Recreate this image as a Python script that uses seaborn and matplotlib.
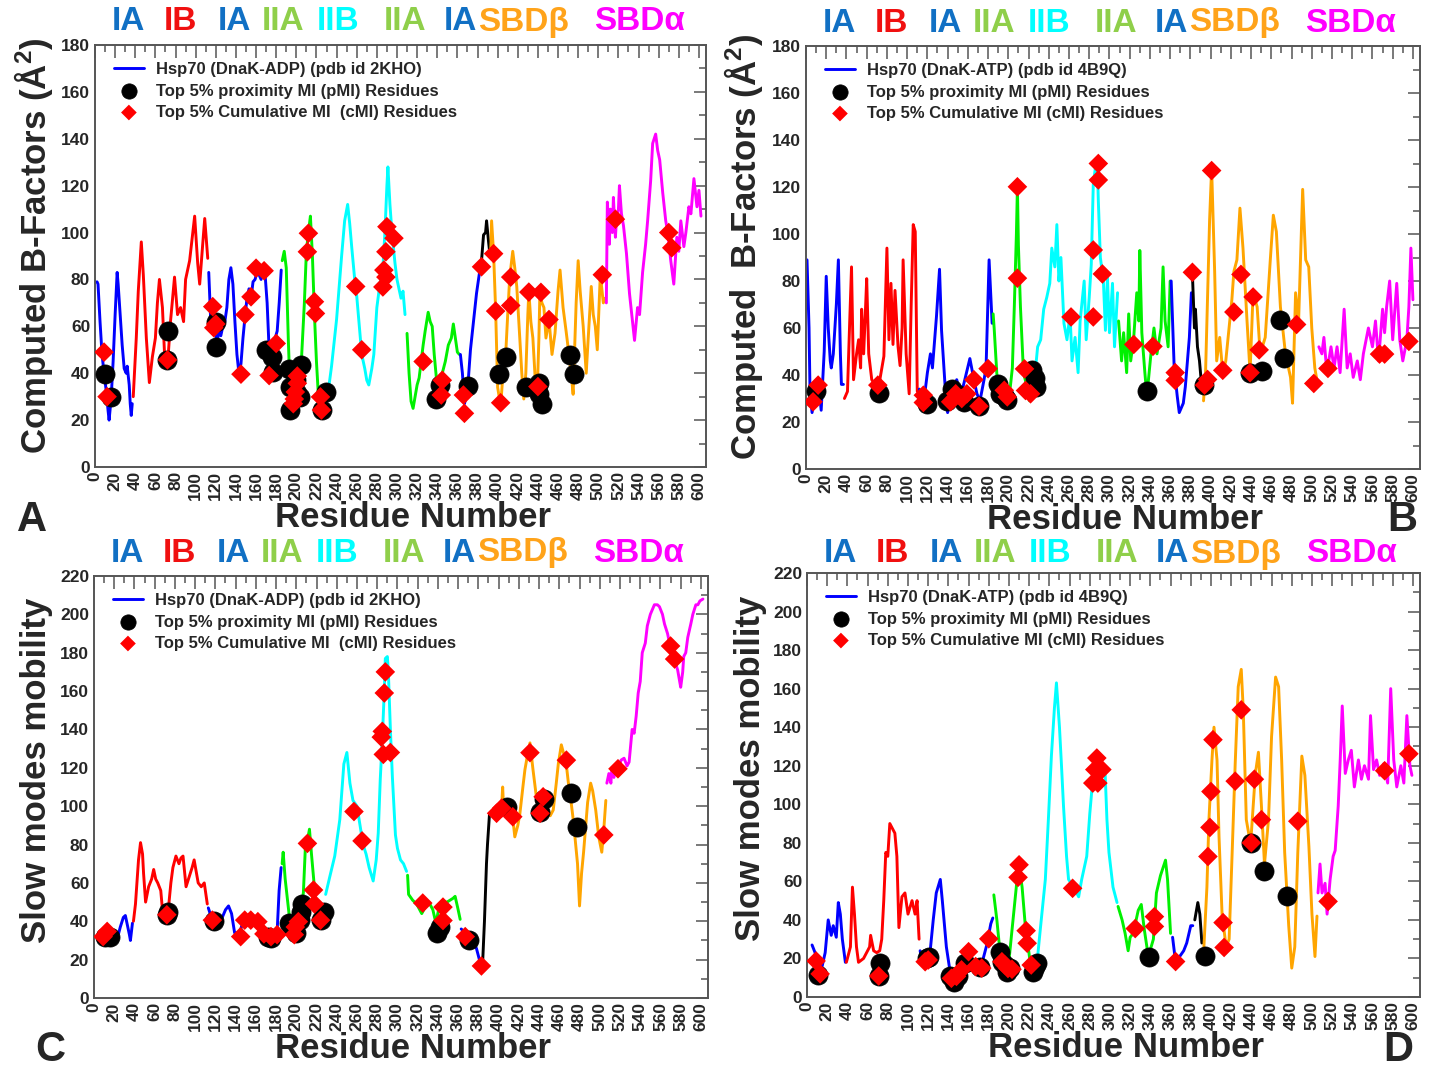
import matplotlib
matplotlib.use("Agg")
import matplotlib.pyplot as plt
from matplotlib.ticker import MultipleLocator
import seaborn as sns

# colours of the ten line segments (IA, IB, IA, IIA, IIB, IIA, IA, linker, SBDb, SBDa)
seg_colors = ["#0000ff", "#ff0000", "#0000ff", "#00f000", "#00ffff",
              "#00f000", "#0000ff", "#000000", "#ffa500", "#ff00ff"]

domain_labels = ["IA", "IB", "IA", "IIA", "IIB", "IIA", "IA", "SBDβ", "SBDα"]
domain_colors = ["#1170c4", "#f01010", "#1170c4", "#8fcf4a", "#00ffff",
                 "#8fcf4a", "#1170c4", "#ffa31a", "#ff00ff"]

# ---------------- panel A : B-factors, DnaK-ADP ----------------
a_res = [
    [2, 3, 5, 7, 9, 11, 13, 14, 16, 18, 20, 22, 23, 25, 27, 29, 31, 32, 34, 35, 36, 37],
    [38, 41, 43, 46, 48, 51, 54, 57, 60, 62, 64, 67, 69, 72, 75, 79, 82, 85, 88, 90, 94, 99, 102, 104, 107, 109, 112],
    [113, 115, 117, 119, 121, 123, 125, 127, 129, 131, 133, 135, 137, 139, 141, 143, 145, 147, 149, 151, 153, 155,
     157, 159, 161, 163, 165, 167, 169, 171, 173, 175, 177, 179, 181, 183, 185],
    [186, 188, 190, 192, 194, 196, 199, 202, 205, 208, 210, 212, 214, 216, 218, 220, 222, 224],
    [225, 228, 231, 235, 240, 245, 248, 251, 253, 255, 258, 260, 263, 265, 268, 270, 272, 275, 277, 280, 283, 286,
     288, 290, 291, 293, 295, 298, 300, 302, 304, 306, 308],
    [310, 312, 314, 316, 318, 320, 322, 324, 326, 328, 331, 333, 335, 337, 340, 342, 345, 348, 351, 354, 356, 358, 360, 362],
    [363, 365, 367, 369, 371, 373, 375, 377, 379, 381, 383],
    [384, 386, 388, 389, 391, 392],
    [393, 394, 396, 398, 400, 403, 405, 408, 410, 412, 415, 417, 419, 422, 424, 426, 428, 430, 431, 433, 435, 437,
     439, 441, 442, 444, 446, 448, 451, 454, 457, 460, 462, 465, 468, 470, 473, 475, 478, 480, 482, 485, 488, 490,
     493, 495, 497, 499, 502, 505, 507],
    [508, 509, 511, 512, 514, 515, 517, 518, 520, 521, 523, 525, 528, 531, 534, 536, 539, 541, 544, 547, 549, 552,
     554, 557, 559, 561, 564, 567, 569, 572, 575, 578, 580, 582, 585, 587, 590, 592, 595, 598, 600, 602],
]
a_val = [
    [79, 78, 62, 48, 40, 33, 24, 20, 29, 45, 65, 83, 78, 65, 52, 42, 40, 43, 35, 27, 22, 27],
    [30, 55, 75, 96, 82, 55, 36, 47, 55, 70, 80, 68, 49, 43, 62, 81, 65, 68, 62, 80, 88, 107, 87, 78, 95, 106, 89],
    [83, 62, 57, 61, 52, 58, 56, 60, 62, 68, 80, 85, 78, 62, 48, 40, 44, 55, 64, 72, 76, 72, 79, 80, 83, 82, 80, 84,
     82, 70, 50, 42, 48, 55, 58, 70, 84],
    [88, 92, 85, 55, 30, 24, 30, 35, 45, 70, 92, 100, 107, 90, 65, 45, 30, 25],
    [32, 27, 30, 43, 63, 90, 105, 112, 104, 94, 80, 73, 58, 48, 42, 37, 35, 42, 48, 68, 78, 85, 100, 120, 128, 112,
     100, 87, 80, 76, 72, 75, 65],
    [57, 40, 28, 25, 30, 35, 38, 45, 52, 58, 66, 62, 60, 48, 34, 36, 40, 45, 52, 55, 61, 55, 49, 48],
    [48, 40, 27, 30, 38, 50, 58, 66, 74, 80, 86],
    [88, 99, 100, 105, 96, 92],
    [90, 105, 91, 67, 34, 26, 38, 48, 65, 81, 92, 85, 77, 55, 40, 29, 40, 65, 75, 62, 55, 40, 27, 55, 75, 70, 68, 55,
     63, 48, 57, 75, 84, 68, 58, 51, 40, 31, 70, 88, 75, 60, 40, 55, 77, 65, 60, 50, 82, 70, 72],
    [70, 113, 95, 110, 100, 115, 98, 105, 110, 120, 108, 103, 91, 74, 62, 54, 68, 65, 83, 95, 105, 122, 138, 142, 135,
     131, 117, 105, 100, 88, 78, 98, 92, 105, 94, 100, 111, 108, 123, 111, 118, 107],
]
a_pmi_res = [10, 16, 73, 72, 120, 120, 170, 176, 177, 193, 194, 194, 201, 204, 200, 205, 226, 229, 339, 343, 371,
             401, 408, 428, 441, 441, 444, 472, 476]
a_pmi_val = [39.5, 30, 58, 45.7, 62, 51.3, 50, 47, 40.7, 42, 34, 24.5, 31.5, 30, 37, 43.5, 24.3, 32, 29, 35, 34.5,
             39.7, 46.8, 34.3, 35.7, 31, 26.7, 47.6, 39.5]
a_cmi_res = [9, 12, 72, 117, 120, 118, 149, 155, 160, 168, 145, 173, 180, 201, 201, 199, 198, 197, 212, 211, 218,
             219, 224, 225, 259, 265, 290, 297, 289, 287, 289, 286, 326, 345, 344, 366, 367, 384, 396, 398, 403, 413,
             413, 431, 443, 440, 451, 504, 517, 570, 573]
a_cmi_val = [49, 30, 45.7, 68.4, 61, 59.4, 65, 72.6, 84.8, 83.7, 39.6, 39, 52.7, 38.8, 35.7, 32, 29, 27, 99.7, 91.8,
             70.5, 65.5, 29.9, 24.3, 77, 50, 102.5, 97.6, 91.8, 84, 81, 76.8, 45, 37, 30.7, 30.7, 22.9, 85.4, 91,
             66.5, 27.4, 81, 68.9, 74.6, 74.5, 34.3, 62.9, 82, 105.7, 100, 93.5]

# ---------------- panel B : B-factors, DnaK-ATP ----------------
b_res = [
    [1, 3, 4, 6, 9, 12, 15, 18, 20, 22, 24, 25, 27, 30, 32, 34, 35, 37],
    [38, 41, 43, 45, 47, 50, 52, 54, 55, 57, 59, 60, 62, 65, 68, 70, 73, 77, 80, 82, 84, 86, 88, 91, 93, 95, 96, 99,
     102, 104, 106, 108, 110],
    [112, 116, 120, 123, 125, 129, 132, 134, 138, 140, 144, 149, 153, 157, 162, 166, 169, 172, 176, 178, 181, 184],
    [185, 186, 189, 192, 196, 199, 202, 204, 206, 208, 209, 210, 212, 215, 219, 221],
    [223, 227, 229, 232, 235, 238, 241, 243, 246, 248, 250, 252, 255, 258, 261, 263, 266, 269, 271, 275, 277, 280,
     282, 284, 286, 288, 289, 291, 294, 296, 298, 300, 303, 305, 308],
    [309, 312, 314, 317, 319, 321, 324, 327, 329, 330, 332, 335, 337, 341, 344, 347, 351, 353, 355, 358, 360],
    [361, 364, 367, 369, 373, 375, 379, 381],
    [382, 384, 385, 387, 389, 391],
    [393, 395, 399, 401, 404, 406, 409, 412, 415, 421, 423, 426, 429, 432, 436, 439, 442, 446, 449, 454, 459, 462,
     465, 469, 474, 479, 481, 484, 487, 491, 494, 497, 500, 503, 505],
    [507, 510, 512, 515, 519, 522, 525, 528, 532, 535, 538, 541, 545, 548, 551, 556, 560, 563, 566, 570, 572, 574,
     577, 580, 584, 587, 590, 594, 596, 598, 600],
]
b_val = [
    [89, 60, 32, 24, 32, 38, 25, 50, 82, 60, 46, 43, 49, 70, 89, 49, 36, 36],
    [30, 33, 60, 86, 38, 49, 55, 43, 68, 49, 70, 81, 49, 38, 36, 38, 38, 48, 94, 55, 79, 53, 76, 52, 44, 60, 89, 49,
     32, 70, 104, 101, 33],
    [34, 27, 41, 49, 43, 65, 85, 59, 32, 24, 32, 38, 31, 38, 47, 38, 32, 29, 38, 43, 89, 62],
    [66, 60, 38, 32, 31, 31, 35, 43, 70, 100, 120, 95, 69, 41, 34, 29],
    [32, 43, 52, 55, 68, 73, 79, 94, 86, 104, 80, 90, 62, 55, 66, 46, 56, 41, 63, 80, 55, 73, 87, 121, 128, 130, 114,
     90, 80, 59, 82, 58, 79, 52, 75],
    [63, 46, 58, 41, 66, 46, 56, 75, 63, 93, 58, 41, 31, 49, 60, 49, 60, 86, 63, 52, 80],
    [80, 43, 31, 24, 28, 35, 56, 75],
    [83, 60, 68, 52, 46, 36],
    [29, 41, 106, 128, 84, 46, 56, 41, 46, 72, 84, 89, 111, 94, 63, 41, 75, 69, 49, 56, 89, 108, 101, 69, 49, 39, 28,
     75, 63, 119, 89, 86, 60, 43, 38],
    [52, 49, 56, 41, 52, 43, 52, 41, 68, 43, 49, 39, 46, 38, 49, 60, 52, 63, 46, 68, 58, 69, 80, 55, 79, 55, 46, 55,
     69, 94, 72],
]
b_pmi_res = [10, 72, 120, 139, 144, 149, 156, 171, 190, 192, 197, 199, 223, 226, 227, 337, 393, 439, 451, 469, 473]
b_pmi_val = [33, 32.5, 27.5, 29, 34.2, 32, 28.5, 27, 36, 32, 30.7, 29.5, 42, 38.8, 35, 33, 35.7, 41, 41.7, 63.2, 47.2]
b_cmi_res = [7, 12, 71, 116, 116, 143, 148, 154, 159, 166, 171, 180, 196, 199, 209, 209, 216, 217, 222, 262, 284,
             284, 289, 289, 293, 324, 343, 365, 365, 382, 394, 397, 401, 412, 423, 430, 442, 439, 448, 485, 502, 516,
             567, 572, 596]
b_cmi_val = [28.6, 35.7, 35.7, 31.4, 28.3, 28.6, 32, 30, 32, 38, 26.7, 42.7, 33.5, 30.7, 120.1, 81.2, 42.6, 33.4,
             32, 64.7, 64.7, 93.2, 123, 130, 83, 53, 52.2, 41, 37.7, 83.7, 35.7, 38.1, 127, 42, 66.8, 82.8, 73.2, 41,
             50.7, 61.5, 36.4, 42.8, 48.9, 48.9, 54.3]

# ---------------- panel C : slow modes, DnaK-ADP ----------------
c_res = [
    [2, 6, 10, 14, 18, 22, 24, 26, 29, 31, 33, 35, 36, 38],
    [39, 41, 44, 46, 48, 49, 51, 54, 57, 59, 61, 63, 66, 68, 69, 72, 74, 76, 78, 81, 84, 86, 88, 91, 94, 97, 99, 103,
     106, 109, 112],
    [113, 116, 121, 126, 130, 133, 136, 139, 144, 148, 153, 159, 164, 169, 176, 181, 183, 185],
    [186, 187, 189, 193, 198, 203, 207, 209, 211, 213, 215, 216, 219, 221],
    [229, 233, 238, 243, 247, 250, 253, 256, 260, 263, 266, 269, 272, 276, 279, 281, 283, 285, 287, 288, 290, 291,
     293, 295, 298, 300, 303, 306, 309],
    [310, 311, 315, 319, 324, 328, 331, 335, 338, 341, 345, 349, 352, 355, 357, 360, 362],
    [363, 367, 371, 375, 378, 380, 383],
    [384, 386, 388, 389, 391, 393],
    [394, 398, 401, 403, 404, 405, 408, 411, 414, 416, 419, 421, 424, 426, 429, 431, 434, 438, 440, 443, 445, 448,
     451, 454, 457, 459, 462, 464, 466, 469, 471, 474, 478, 480, 482, 484, 488, 491, 493, 496, 499, 502, 504, 506],
    [507, 509, 511, 512, 514, 516, 519, 521, 524, 527, 529, 532, 534, 536, 538, 540, 542, 545, 547, 550, 554, 557,
     559, 562, 564, 567, 569, 572, 574, 577, 579, 580, 582, 583, 585, 587, 590, 592, 595, 597, 599, 602],
]
c_val = [
    [32, 33, 32, 33, 33, 34, 33, 37, 42, 43, 38, 33, 30, 39],
    [40, 49, 72, 81, 75, 65, 50, 58, 62, 67, 62, 60, 56, 44, 48, 47, 49, 60, 68, 74, 70, 73, 74, 58, 63, 68, 72, 60,
     58, 60, 49],
    [47, 42, 39, 41, 46, 48, 44, 34, 34, 41, 41, 39, 37, 32, 32, 34, 56, 68],
    [70, 76, 62, 43, 37, 41, 55, 79, 82, 88, 75, 69, 51, 46],
    [54, 63, 74, 93, 122, 128, 112, 103, 100, 90, 80, 75, 68, 61, 72, 86, 114, 135, 160, 177, 178, 170, 140, 115, 85,
     78, 72, 70, 66],
    [64, 54, 51, 49, 44, 48, 50, 46, 39, 47, 50, 50, 51, 52, 53, 46, 41],
    [36, 34, 31, 28, 26, 22, 16],
    [16, 40, 70, 80, 96, 97],
    [96, 97, 98, 100, 110, 98, 100, 95, 94, 84, 90, 96, 110, 119, 128, 133, 119, 102, 100, 105, 103, 98, 95, 98, 112,
     122, 132, 128, 126, 112, 105, 92, 70, 48, 65, 76, 102, 112, 108, 98, 84, 76, 88, 103],
    [112, 117, 112, 120, 115, 121, 120, 124, 125, 121, 123, 140, 138, 147, 159, 165, 180, 185, 194, 200, 205, 205,
     204, 200, 195, 190, 185, 180, 176, 171, 165, 162, 170, 178, 180, 188, 195, 200, 205, 205, 207, 208],
]
c_pmi_res = [11, 16, 73, 72, 119, 172, 175, 193, 196, 200, 204, 205, 206, 227, 224, 339, 342, 371, 408, 441, 445,
             472, 477]
c_pmi_val = [32, 32, 45, 43.4, 40, 32, 31.2, 38.9, 37, 33.7, 40.6, 45, 49, 45, 40.6, 33.7, 37, 30.2, 99.4, 97.2,
             104, 107, 89]
c_cmi_res = [9, 13, 72, 117, 145, 149, 155, 162, 168, 175, 181, 198, 199, 202, 211, 217, 218, 224, 257, 265, 284,
             285, 286, 287, 288, 293, 325, 345, 345, 367, 383, 398, 403, 414, 431, 441, 444, 467, 504, 518, 570, 574]
c_cmi_val = [32, 34.7, 43.4, 40.6, 32, 40.6, 40.6, 39.8, 33.4, 32, 33, 33, 37, 39.8, 80.6, 56.3, 49, 40.6, 97.2,
             81.9, 136, 139, 127, 159, 170, 128, 49.5, 47.4, 40.4, 32, 16.7, 96.3, 99, 94.5, 127.9, 96.3, 104.9, 124,
             85, 119.5, 183.5, 176.7]

# ---------------- panel D : slow modes, DnaK-ATP ----------------
d_res = [
    [5, 8, 11, 15, 18, 21, 24, 26, 29, 31, 33, 35, 38],
    [39, 43, 45, 47, 49, 51, 56, 59, 62, 63, 66, 69, 72, 74, 76, 78, 80, 82, 85, 87, 89, 91, 94, 97, 100, 104, 107,
     109, 111],
    [112, 115, 118, 122, 125, 128, 132, 134, 138, 142, 146, 152, 158, 161, 165, 170, 174, 178, 182, 184],
    [185, 188, 191, 195, 200, 204, 208, 210, 213, 216, 221],
    [228, 231, 236, 239, 242, 245, 247, 250, 252, 254, 257, 259, 264, 269, 272, 277, 280, 283, 285, 288, 291, 293,
     295, 297, 299, 303, 307],
    [308, 312, 315, 318, 320, 323, 328, 331, 334, 338, 343, 346, 350, 355, 357, 360],
    [362, 365, 369, 373, 376, 380, 382],
    [384, 387, 389, 391],
    [393, 396, 398, 401, 403, 406, 408, 411, 415, 418, 421, 424, 427, 430, 432, 435, 438, 440, 444, 447, 450, 453,
     457, 460, 464, 467, 470, 473, 477, 480, 483, 486, 490, 493, 497, 500, 503, 505],
    [506, 508, 510, 513, 515, 518, 521, 523, 526, 528, 530, 533, 536, 539, 542, 546, 549, 552, 556, 558, 561, 564,
     567, 571, 575, 578, 581, 584, 588, 591, 594, 597, 599],
]
d_val = [
    [27, 23, 12, 16, 23, 40, 32, 37, 31, 49, 43, 30, 18],
    [18, 26, 57, 43, 26, 18, 20, 23, 26, 32, 24, 23, 24, 30, 50, 75, 73, 90, 87, 85, 73, 36, 52, 54, 43, 50, 43, 50,
     30],
    [24, 16, 20, 24, 40, 54, 61, 50, 26, 12, 9, 12, 19, 23, 16, 17, 19, 27, 38, 41],
    [53, 40, 24, 16, 19, 40, 61, 68, 57, 38, 18],
    [19, 35, 61, 92, 125, 150, 163, 140, 120, 99, 73, 61, 57, 52, 61, 73, 95, 113, 118, 120, 116, 118, 119, 92, 75,
     57, 49],
    [47, 40, 33, 24, 31, 33, 45, 48, 35, 21, 30, 54, 63, 71, 61, 33],
    [31, 18, 21, 24, 28, 37, 37],
    [40, 49, 43, 28],
    [26, 57, 92, 123, 140, 123, 83, 43, 26, 30, 75, 121, 161, 170, 149, 92, 83, 85, 116, 127, 99, 69, 92, 135, 166,
     161, 123, 75, 37, 15, 26, 75, 125, 115, 78, 43, 21, 42],
    [54, 69, 54, 59, 43, 61, 73, 76, 99, 123, 151, 116, 123, 128, 109, 123, 113, 120, 113, 146, 118, 123, 115, 121,
     111, 160, 123, 109, 120, 111, 146, 120, 115],
]
d_pmi_res = [11, 72, 71, 119, 121, 142, 146, 150, 156, 171, 191, 193, 196, 198, 201, 224, 226, 228, 339, 394, 440,
             453, 475]
d_pmi_val = [11.5, 17.5, 10.9, 20, 20.8, 10.7, 8, 10.7, 17.5, 15.8, 23.5, 18.3, 16.6, 13.1, 14.8, 13.1, 15.8, 17.8,
             20.6, 21.3, 80, 65.2, 52.5]
d_cmi_res = [9, 13, 71, 117, 120, 143, 148, 153, 160, 167, 173, 180, 193, 196, 199, 203, 209, 210, 217, 218, 222,
             263, 283, 285, 287, 288, 292, 325, 344, 344, 365, 397, 399, 400, 402, 412, 413, 424, 430, 440, 443, 450,
             486, 516, 572, 596]
d_cmi_val = [18.7, 12, 10.9, 18.3, 19.2, 9.7, 10.7, 14.1, 23.5, 15.8, 15, 30.2, 18.3, 16.6, 14.8, 14.4, 62.1, 68.6,
             34.4, 27.9, 16.6, 56.4, 111, 118, 124, 111, 118, 35.5, 41.7, 36.6, 18.4, 72.9, 88, 106.6, 133.5, 38.6,
             25.7, 112, 149, 80, 113, 92, 91.2, 49.6, 117.4, 126.2]

adp_label = "Hsp70 (DnaK-ADP) (pdb id 2KHO)"
atp_label = "Hsp70 (DnaK-ATP) (pdb id 4B9Q)"
pmi_label = "Top 5% proximity MI (pMI) Residues"

sns.set_style("white")
plt.rcParams["font.family"] = ["Liberation Sans", "DejaVu Sans"]
plt.rcParams["font.weight"] = "bold"
plt.rcParams["mathtext.fontset"] = "custom"
plt.rcParams["mathtext.rm"] = "Liberation Sans:bold"
plt.rcParams["mathtext.default"] = "rm"

W, H = 1429, 1068
fig = plt.figure(figsize=(W / 100, H / 100), dpi=100)


def panel(box, res, val, pres, pval, cres, cval, ymax, ylabel, lab1, lab3, ylab_y, head_y, letter, letter_xy):
    left, top, right, bottom = box
    ax = fig.add_axes([left / W, 1 - bottom / H, (right - left) / W, (bottom - top) / H])
    for i in range(len(res)):
        sns.lineplot(x=res[i], y=val[i], color=seg_colors[i], linewidth=2.1, sort=False, estimator=None,
                     ax=ax, label=lab1 if i == 0 else None, legend=False)
    sns.scatterplot(x=pres, y=pval, color="black", marker="o", s=190, edgecolor="black", linewidth=0.5,
                    ax=ax, label=pmi_label, legend=False, zorder=3)
    sns.scatterplot(x=cres, y=cval, color="#ff0000", marker="D", s=100, edgecolor="none",
                    ax=ax, label=lab3, legend=False, zorder=4)
    ax.set_xlim(0, 607)
    ax.set_ylim(0, ymax)
    ax.xaxis.set_major_locator(MultipleLocator(20))
    ax.xaxis.set_minor_locator(MultipleLocator(10))
    ax.yaxis.set_major_locator(MultipleLocator(20))
    ax.yaxis.set_minor_locator(MultipleLocator(10))
    ax.tick_params(which="both", direction="in", top=True, right=True, color="#555555", width=1.1)
    ax.tick_params(which="major", length=9, labelsize=12.5)
    ax.tick_params(which="minor", length=5)
    ax.tick_params(axis="x", which="major", labelrotation=90, pad=3)
    for t in ax.get_xticklabels() + ax.get_yticklabels():
        t.set_fontweight("bold")
    for s in ax.spines.values():
        s.set_color("#555555")
        s.set_linewidth(1.4)
    ax.set_xlabel("Residue Number", fontsize=25, fontweight="bold")
    ax.xaxis.set_label_coords(0.52, -0.08)
    ax.set_ylabel(ylabel, fontsize=25, fontweight="bold")
    ax.yaxis.set_label_coords(-0.066, ylab_y)
    h, l = ax.get_legend_handles_labels()
    ax.legend(h, l, loc="upper left", bbox_to_anchor=(0.02, 0.975), frameon=False,
              prop={"size": 12, "weight": "bold"}, handlelength=1.8, handletextpad=0.7,
              labelspacing=0.38, borderaxespad=0.0, markerscale=0.8)
    # domain names above the panel
    offsets = [33, 85, 139, 188, 243, 310, 365, 429, 545]
    for name, col, off in zip(domain_labels, domain_colors, offsets):
        fig.text((left + off) / W, 1 - head_y / H, name, color=col, fontsize=24,
                 fontweight="bold", ha="center", va="center")
    fig.text(letter_xy[0] / W, 1 - letter_xy[1] / H, letter, fontsize=30, fontweight="bold",
             ha="center", va="center")
    return ax


panel((95, 45, 706, 467), a_res, a_val, a_pmi_res, a_pmi_val, a_cmi_res, a_cmi_val, 180,
      "Computed B-Factors (Å$^{2}$)", adp_label, "Top 5% Cumulative MI  (cMI) Residues", 0.525, 22,
      "A", (32, 520))
panel((806, 46, 1420, 469), b_res, b_val, b_pmi_res, b_pmi_val, b_cmi_res, b_cmi_val, 180,
      "Computed  B-Factors (Å$^{2}$)", atp_label, "Top 5% Cumulative MI (cMI) Residues", 0.525, 23,
      "B", (1402, 520))
panel((94, 576, 708, 998), c_res, c_val, c_pmi_res, c_pmi_val, c_cmi_res, c_cmi_val, 220,
      "Slow modes mobility", adp_label, "Top 5% Cumulative MI  (cMI) Residues", 0.54, 553,
      "C", (50, 1050))
panel((807, 573, 1420, 997), d_res, d_val, d_pmi_res, d_pmi_val, d_cmi_res, d_cmi_val, 220,
      "Slow modes mobility", atp_label, "Top 5% Cumulative MI (cMI) Residues", 0.54, 554,
      "D", (1398, 1050))

fig.savefig("out.png", dpi=100)
